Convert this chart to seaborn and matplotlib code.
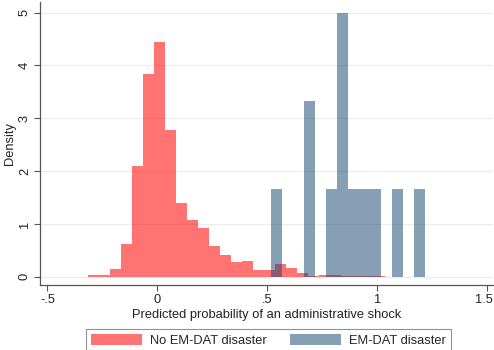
import numpy as np
import pandas as pd
import matplotlib
matplotlib.use("Agg")
import matplotlib.pyplot as plt
import matplotlib.transforms as mtransforms
import seaborn as sns

# ---- data (density per bin) ----
bin_width = 0.05
red_start = -0.316
red_density = [0.03, 0.03, 0.14, 0.62, 2.10, 3.83, 4.45, 2.78, 1.40, 1.07,
               0.93, 0.58, 0.41, 0.27, 0.29, 0.13, 0.13, 0.24, 0.16, 0.07,
               0.02, 0.03, 0.03, 0.01, 0.01, 0.01, 0.01]
blue_start = 0.5145
blue_density = [1.667, 0, 0, 3.333, 0, 1.667, 5.0, 1.667, 1.667, 1.667,
                0, 1.667, 0, 1.667]
series_labels = ["No EM-DAT disaster", "EM-DAT disaster"]
x_ticks = [-0.5, 0, 0.5, 1, 1.5]
x_ticklabels = ["-.5", "0", ".5", "1", "1.5"]
y_ticks = [0, 1, 2, 3, 4, 5]
x_label = "Predicted probability of an administrative shock"
y_label = "Density"


def make_df(start, dens):
    n = len(dens)
    centers = start + bin_width * (np.arange(n) + 0.5)
    return pd.DataFrame({"x": centers, "density": dens}), (start, start + n * bin_width)


red_df, red_range = make_df(red_start, red_density)
blue_df, blue_range = make_df(blue_start, blue_density)

sns.set_theme(style="white")
plt.rcParams["font.family"] = ["Liberation Sans", "DejaVu Sans"]

FS = 9.3
fig = plt.figure(figsize=(4.94, 3.5), dpi=100)
ax = fig.add_axes([40 / 494, 1 - 285 / 350, 453 / 494, 283 / 350])

red_col = (1.0, 0.0, 0.0)
navy_col = (26 / 255, 71 / 255, 111 / 255)

sns.histplot(data=red_df, x="x", weights="density", binwidth=bin_width,
             binrange=red_range, stat="count", color=red_col, alpha=0.55,
             linewidth=0, ax=ax, label=series_labels[0])
sns.histplot(data=blue_df, x="x", weights="density", binwidth=bin_width,
             binrange=blue_range, stat="count", color=navy_col, alpha=0.52,
             linewidth=0, ax=ax, label=series_labels[1])

ax.set_xlim(-0.534, 1.525)
ax.set_ylim(-0.157, 5.2)
ax.set_xticks(x_ticks)
ax.set_xticklabels(x_ticklabels)
ax.set_yticks(y_ticks)
ax.set_yticklabels([str(v) for v in y_ticks], rotation=90, va="center")
ax.set_xlabel(x_label, fontsize=FS, labelpad=2, color="#222222")
ax.set_ylabel(y_label, fontsize=FS, labelpad=2, color="#222222")

for yv in y_ticks:
    ax.axhline(yv, color="#ececec", lw=0.8, zorder=0)

for s in ["top", "right"]:
    ax.spines[s].set_visible(False)
for s in ["left", "bottom"]:
    ax.spines[s].set_color("#555555")
    ax.spines[s].set_linewidth(0.9)
ax.tick_params(axis="both", direction="out", length=4, width=0.8,
               color="#555555", labelsize=FS, labelcolor="#222222", pad=2.5,
               bottom=True, left=True)

# keep the last x tick label inside the canvas
last = ax.get_xticklabels()[-1]
last.set_transform(last.get_transform() +
                   mtransforms.ScaledTranslation(-4 / 100, 0, fig.dpi_scale_trans))

handles, labels = ax.get_legend_handles_labels()
leg = fig.legend(handles, labels, loc="upper center",
                 bbox_to_anchor=(268.5 / 494, 1 - 329 / 350), ncol=2,
                 borderaxespad=0, frameon=True, fancybox=False, fontsize=FS,
                 handlelength=3.95, handleheight=0.9, columnspacing=1.85,
                 handletextpad=0.62, borderpad=0.4, edgecolor="#777777")
leg.get_frame().set_linewidth(0.8)

fig.savefig("out.png", dpi=100, facecolor="white")
